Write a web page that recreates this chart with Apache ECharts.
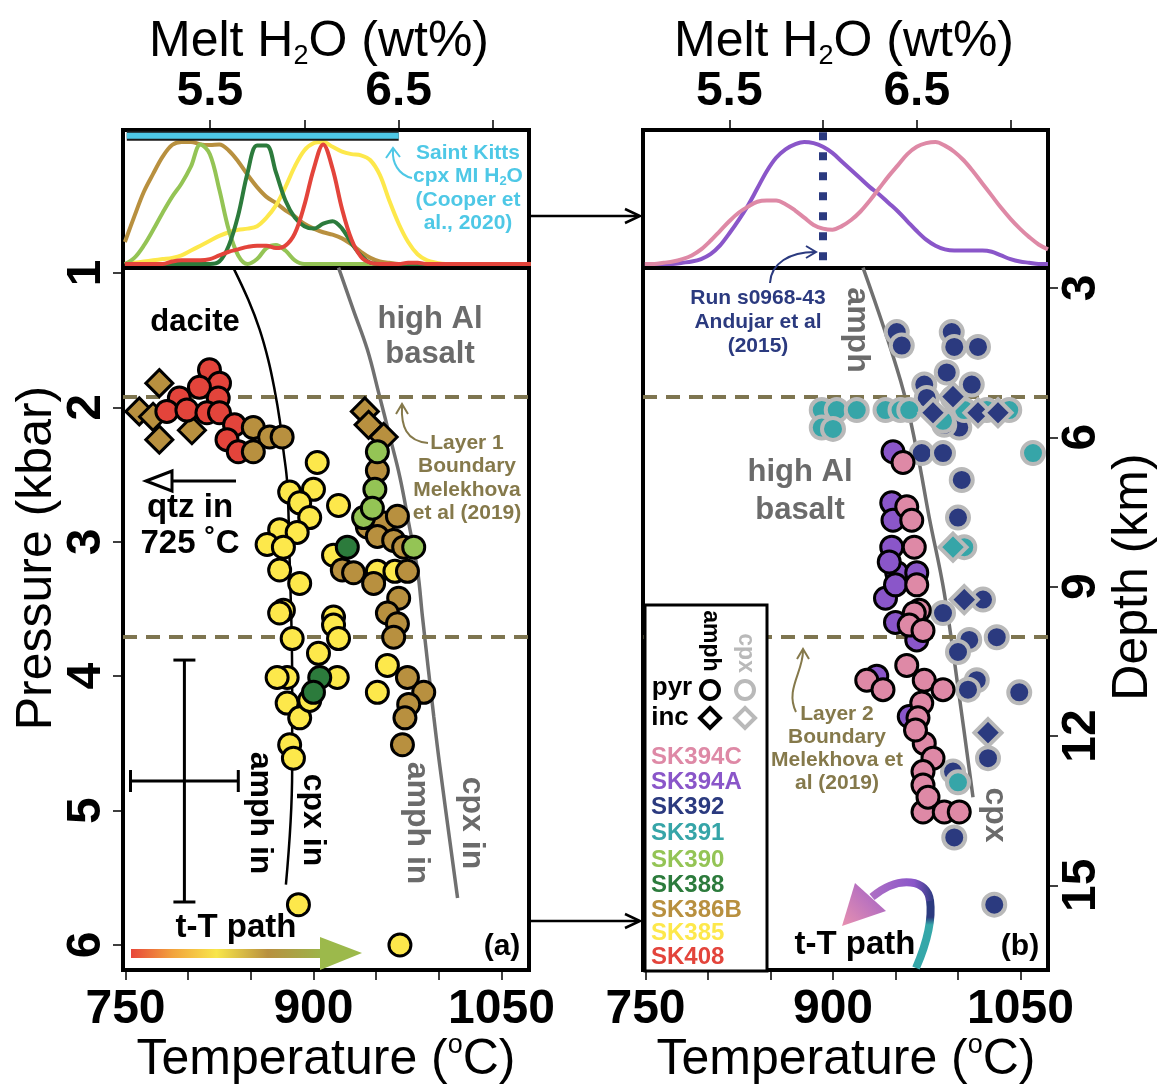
<!DOCTYPE html>
<html>
<head>
<meta charset="utf-8">
<script src="https://cdn.jsdelivr.net/npm/echarts@6.0.0/dist/echarts.min.js"></script>
<style>
html, body { margin: 0; padding: 0; background: #fff; }
#main { width: 1163px; height: 1091px; }
</style>
</head>
<body>
<div id="main"></div>
<script>
const FONT = "'Liberation Sans', Arial, Helvetica, sans-serif";

// ---- axes ----
const tempTicks = [750, 800, 850, 900, 950, 1000, 1050];
const tempLabels = [750, 900, 1050];
const presTicks = [1, 2, 3, 4, 5, 6];
const h2oTicks = [5.5, 6.0, 6.5, 7.0];
const h2oLabels = [5.5, 6.5];
const depthTicks = [3, 6, 9, 12, 15];

// ---- samples ----
const sampleNames = ['SK394C', 'SK394A', 'SK392', 'SK391', 'SK390', 'SK388', 'SK386B', 'SK385', 'SK408'];
const sampleColors = ['#de89a6', '#8a56c9', '#2b3a7f', '#36a5a8', '#94c455', '#2c7b3c', '#b8903f', '#fde84b', '#e3443b'];

// melt H2O (wt%) grid for the density curves
const h2oGrid = [5.05, 5.10, 5.15, 5.20, 5.25, 5.30, 5.35, 5.40, 5.45, 5.50, 5.55, 5.60, 5.65, 5.70, 5.75,
  5.80, 5.85, 5.90, 5.95, 6.00, 6.05, 6.10, 6.15, 6.20, 6.25, 6.30, 6.35, 6.40, 6.45, 6.50, 6.55, 6.60,
  6.65, 6.70, 6.75, 6.80, 6.85, 6.90, 6.95, 7.00, 7.05, 7.10, 7.15, 7.20];

// panel a densities (scaled)
const densSK386B = [0.18, 0.39, 0.59, 0.74, 0.88, 0.975, 1.0, 1.0, 0.98, 0.975, 0.98, 0.93, 0.84, 0.73, 0.63,
  0.55, 0.50, 0.44, 0.39, 0.33, 0.29, 0.26, 0.24, 0.21, 0.16, 0.10, 0.05, 0.02, 0.01, 0, 0, 0,
  0, 0, 0, 0, 0, 0, 0, 0, 0, 0, 0, 0];
const densSK390 = [0, 0.05, 0.15, 0.28, 0.42, 0.55, 0.66, 0.80, 0.98, 0.90, 0.61, 0.28, 0.07, 0, 0.04,
  0.13, 0.155, 0.11, 0.03, 0, 0, 0, 0, 0, 0, 0, 0, 0, 0, 0, 0, 0,
  0, 0, 0, 0, 0, 0, 0, 0, 0, 0, 0, 0];
const densSK388 = [0, 0, 0, 0, 0, 0, 0, 0, 0, 0, 0.02, 0.15, 0.40, 0.75, 0.97,
  0.97, 0.75, 0.52, 0.38, 0.31, 0.29, 0.33, 0.35, 0.29, 0.17, 0.07, 0.01, 0, 0, 0, 0, 0,
  0, 0, 0, 0, 0, 0, 0, 0, 0, 0, 0, 0];
const densSK408 = [0, 0, 0, 0, 0, 0.02, 0.03, 0.03, 0.03, 0.04, 0.07, 0.10, 0.12, 0.14, 0.15,
  0.15, 0.13, 0.15, 0.25, 0.48, 0.78, 0.98, 0.78, 0.45, 0.20, 0.06, 0.01, 0, 0, 0, 0.01, 0.01,
  0, 0, 0, 0, 0, 0, 0, 0, 0, 0, 0, 0];
const densSK385 = [0, 0.01, 0.02, 0.03, 0.04, 0.05, 0.07, 0.11, 0.15, 0.19, 0.23, 0.26, 0.28, 0.29, 0.31,
  0.38, 0.48, 0.63, 0.80, 0.93, 0.99, 1.0, 0.96, 0.92, 0.90, 0.89, 0.85, 0.73, 0.52, 0.33, 0.18, 0.08,
  0.03, 0.01, 0, 0, 0, 0, 0, 0, 0, 0, 0, 0];
// panel b densities
const densSK394A = [0, 0, 0, 0, 0.01, 0.02, 0.04, 0.08, 0.15, 0.25, 0.36, 0.48, 0.62, 0.76, 0.87,
  0.94, 0.98, 1.0, 0.99, 0.96, 0.91, 0.84, 0.77, 0.70, 0.63, 0.57, 0.50, 0.43, 0.35, 0.27, 0.20, 0.15,
  0.12, 0.11, 0.11, 0.11, 0.11, 0.10, 0.07, 0.04, 0.02, 0.01, 0, 0];
const densSK394C = [0, 0, 0.01, 0.02, 0.04, 0.07, 0.12, 0.19, 0.27, 0.35, 0.42, 0.47, 0.51, 0.52, 0.52,
  0.49, 0.44, 0.38, 0.32, 0.29, 0.28, 0.31, 0.36, 0.43, 0.52, 0.62, 0.72, 0.81, 0.90, 0.96, 0.99, 1.0,
  0.97, 0.92, 0.85, 0.76, 0.66, 0.56, 0.46, 0.37, 0.29, 0.22, 0.16, 0.12];

const kittsRange = [5.06, 6.5];   // Saint Kitts cpx MI H2O
const runH2O = 6.0;              // Run s0968-43

// ---- panel a points [T degC, P kbar] ----
const sk408Pyr = [[817, 1.72], [825, 1.82], [809, 1.85], [793, 1.93], [824, 1.93], [783, 2.03], [799, 2.02],
  [815, 2.04], [825, 2.04], [837, 2.13], [831, 2.24], [840, 2.33]];
const sk386bInc = [[777, 1.82], [761, 2.03], [777, 2.24], [803, 2.17], [772, 2.07], [941, 2.03], [944, 2.13], [956, 2.22]];
const sk386bPyr = [[852, 2.15], [865, 2.22], [875, 2.22], [852, 2.33], [951, 2.47], [943, 2.89], [956, 2.86],
  [967, 2.81], [951, 2.96], [964, 2.99], [972, 3.04], [923, 3.21], [932, 3.23], [948, 3.31], [975, 3.22],
  [968, 3.42], [959, 3.53], [967, 3.61], [964, 3.71], [975, 4.01], [988, 4.12], [976, 4.21], [973, 4.31], [971, 4.51]];
const sk385Pyr = [[903, 2.41], [881, 2.63], [900, 2.61], [889, 2.71], [897, 2.82], [920, 2.73], [873, 2.91],
  [887, 2.93], [863, 3.02], [876, 3.04], [873, 3.21], [889, 3.31], [916, 3.10], [876, 3.51], [916, 3.56],
  [951, 3.22], [965, 3.22], [873, 3.53], [883, 3.72], [916, 3.62], [920, 3.72], [904, 3.83], [879, 4.01],
  [871, 4.01], [919, 4.01], [879, 4.20], [889, 4.31], [881, 4.51], [884, 4.61], [897, 4.18], [888, 5.70],
  [969, 6.00], [959, 3.92], [951, 4.12]];
const sk390Pyr = [[951, 2.33], [949, 2.61], [980, 3.04], [940, 2.82], [947, 2.75]];
const sk388Pyr = [[927, 3.04], [905, 4.01], [900, 4.12]];

// ---- panel b points ----
const sk392Pyr = [[951, 1.44], [955, 1.54], [995, 1.44], [997, 1.55], [1016, 1.55], [991, 1.74], [973, 1.83],
  [1011, 1.83], [975, 1.93], [996, 1.93], [1001, 2.15], [989, 2.13], [971, 2.34], [988, 2.34], [1003, 2.54],
  [1000, 2.82], [1020, 3.43], [988, 3.53], [1031, 3.71], [1009, 3.73], [1000, 3.82], [1015, 4.03],
  [1008, 4.10], [1049, 4.12], [1024, 4.61], [996, 4.71], [997, 5.20], [1029, 5.70]];
const sk392Inc = [[980, 2.04], [1016, 2.04], [1032, 2.04], [996, 1.92], [1005, 3.43], [1024, 4.42]];
const sk391Pyr = [[891, 2.02], [903, 2.02], [919, 2.02], [942, 2.02], [954, 2.02], [961, 2.02], [988, 2.10],
  [1005, 2.02], [1023, 2.02], [1041, 2.02], [891, 2.15], [900, 2.16], [1060, 2.34], [1005, 3.04], [1000, 4.79]];
const sk391Inc = [[996, 3.04]];
const sk394aPyr = [[948, 2.33], [947, 2.71], [948, 2.84], [947, 3.04], [951, 3.23], [942, 3.42], [967, 3.23],
  [967, 3.73], [935, 4.00], [961, 4.30], [950, 3.32], [945, 3.15], [950, 3.60]];
const sk394cPyr = [[956, 2.41], [959, 2.74], [963, 2.84], [965, 3.04], [967, 3.32], [969, 3.51], [965, 3.53],
  [961, 3.62], [972, 3.66], [959, 3.92], [973, 4.03], [988, 4.10], [927, 4.03], [940, 4.10], [971, 4.20],
  [968, 4.31], [973, 4.50], [980, 4.61], [972, 4.71], [972, 4.81], [972, 5.01], [989, 5.01], [1001, 5.01],
  [966, 4.40], [976, 4.90]];

// phase boundaries [T, P]
const daciteLine = [[836, 0.96], [848, 1.20], [857, 1.42], [864, 1.65], [869, 1.87], [873, 2.09], [876, 2.32],
  [879, 2.56], [881, 3.14], [883, 4.03], [883, 4.70], [878, 5.55]];
const basaltLineA = [[920, 0.96], [932, 1.28], [943, 1.57], [952, 1.89], [961, 2.22], [969, 2.52], [976, 2.86],
  [983, 3.21], [987, 3.56], [996, 4.30], [1001, 4.68], [1015, 5.65]];
const basaltLineB = [[924, 0.96], [954, 1.80], [967, 2.32], [977, 2.82], [989, 3.38], [1001, 4.15], [1012, 4.90]];

const layerBounds = [1.92, 3.71];      // Melekhova et al (2019), kbar
const errCross = [797, 4.78, 43, 0.9];  // T, P, dT, dP

const COL = {};
sampleNames.forEach((n, i) => { COL[n] = sampleColors[i]; });

const chart = echarts.init(document.getElementById('main'));

const tick = { length: 10, inside: false, lineStyle: { color: '#000', width: 1.5 } };
const numLabel = { fontSize: 48, fontWeight: 'bold', color: '#000', fontFamily: FONT, formatter: v => String(v) };
const noLine = { show: false, onZero: false };
const box = { show: true, borderColor: '#000', borderWidth: 4, backgroundColor: '#fff' };

function tempAxis(gi) {
  return {
    type: 'value', gridIndex: gi, min: 748, max: 1072, position: 'bottom',
    axisLine: noLine, splitLine: { show: false },
    axisTick: { ...tick, customValues: tempTicks },
    axisLabel: { ...numLabel, customValues: tempLabels, margin: 16 }
  };
}
function h2oAxis(gi, max) {
  return {
    type: 'value', gridIndex: gi, min: 5.04, max: max, position: 'top',
    axisLine: noLine, splitLine: { show: false },
    axisTick: { ...tick, customValues: h2oTicks },
    axisLabel: { ...numLabel, customValues: h2oLabels, margin: 14, formatter: v => v.toFixed(1) }
  };
}
function densAxis(gi) {
  return { type: 'value', gridIndex: gi, min: -0.033, max: 1.098, show: false };
}

function dens(values, gi, name) {
  return {
    type: 'line', xAxisIndex: gi, yAxisIndex: gi, silent: true, smooth: 0.35, showSymbol: false, z: 3,
    data: h2oGrid.map((w, i) => [w, values[i]]),
    lineStyle: { color: COL[name], width: 4 }
  };
}
function dots(name, data, gi, symbol, edge) {
  const cpx = edge !== '#000';
  return {
    type: 'scatter', xAxisIndex: gi, yAxisIndex: gi, silent: true, z: 5,
    data, symbol, symbolSize: symbol === 'diamond' ? 27 : 22,
    itemStyle: { color: COL[name], borderColor: edge, borderWidth: cpx ? 4 : 3, opacity: 1 }
  };
}
function boundary(data, gi, color, width, withLayers) {
  const s = {
    type: 'line', xAxisIndex: gi, yAxisIndex: gi, silent: true, smooth: 0.4, showSymbol: false, z: 3,
    data, lineStyle: { color, width }
  };
  if (withLayers) {
    s.markLine = {
      silent: true, symbol: ['none', 'none'], label: { show: false },
      lineStyle: { color: '#7e7550', width: 4, type: [14, 9] },
      data: layerBounds.map(p => ({ yAxis: p }))
    };
  }
  return s;
}

const GRAY = '#6b6b6b';
const OLIVE = '#85794b';
const CYAN = '#4ec8e6';
const NAVY = '#2b3a7f';

function txt(x, y, text, size, color, opt) {
  opt = opt || {};
  return {
    type: 'text', x, y, rotation: opt.rot || 0, z: 100, silent: true,
    style: {
      text, fill: color, fontSize: size, fontWeight: opt.w || 'bold', fontFamily: FONT,
      align: opt.align || 'center', verticalAlign: 'middle',
      textAlign: opt.align || 'center', textVerticalAlign: 'middle',
      lineHeight: opt.lh || Math.round(size * 1.15), rich: opt.rich
    }
  };
}
function curve(p, color, w) {
  return {
    type: 'bezierCurve', z: 100, silent: true,
    shape: { x1: p[0], y1: p[1], cpx1: p[2], cpy1: p[3], cpx2: p[4], cpy2: p[5], x2: p[6], y2: p[7] },
    style: { stroke: color, lineWidth: w, fill: null }
  };
}
function poly(points, color, w) {
  return { type: 'polyline', z: 100, silent: true, shape: { points }, style: { stroke: color, lineWidth: w, fill: null } };
}

const titleRich = {
  sub: { fontSize: 27, lineHeight: 27, verticalAlign: 'bottom', fill: '#000', fontFamily: FONT },
  sup: { fontSize: 27, lineHeight: 27, verticalAlign: 'top', fill: '#000', fontFamily: FONT }
};
const kittsRich = { s: { fontSize: 13, lineHeight: 13, verticalAlign: 'bottom', fill: CYAN, fontWeight: 'bold', fontFamily: FONT } };

const legendY = [757, 782, 807, 833, 860, 885, 910, 933, 957];

const graphics = [
  // titles
  txt(319, 42, 'Melt H{sub|2}O (wt%)', 50, '#000', { w: 'normal', lh: 56, rich: titleRich }),
  txt(844, 42, 'Melt H{sub|2}O (wt%)', 50, '#000', { w: 'normal', lh: 56, rich: titleRich }),
  txt(326, 1060, 'Temperature ({sup|o}C)', 50, '#000', { w: 'normal', lh: 56, rich: titleRich }),
  txt(846, 1060, 'Temperature ({sup|o}C)', 50, '#000', { w: 'normal', lh: 56, rich: titleRich }),
  txt(37, 558, 'Pressure (kbar)', 50, '#000', { w: 'normal', rot: Math.PI / 2 }),
  txt(1133, 577, 'Depth (km)', 50, '#000', { w: 'normal', rot: Math.PI / 2 }),

  // panel a annotations
  txt(195, 322, 'dacite', 31, '#000'),
  txt(430, 337, 'high Al\nbasalt', 31, GRAY, { lh: 35 }),
  txt(467, 478, 'Layer 1\nBoundary\nMelekhova\net al (2019)', 21, OLIVE, { lh: 23.5 }),
  curve([428, 443, 406, 441, 401, 426, 402, 406], OLIVE, 2),
  poly([[396, 414], [402, 404], [408, 414]], OLIVE, 2),
  txt(190, 508, 'qtz in', 33, '#000'),
  txt(190, 544, '725 \u02daC', 33, '#000'),
  { type: 'line', z: 100, silent: true, shape: { x1: 236, y1: 481, x2: 170, y2: 481 }, style: { stroke: '#000', lineWidth: 3 } },
  { type: 'polygon', z: 100, silent: true, shape: { points: [[146, 481], [172, 471], [172, 491]] }, style: { fill: '#fff', stroke: '#000', lineWidth: 3 } },
  txt(260, 813, 'amph in', 32, '#000', { rot: -Math.PI / 2 }),
  txt(313, 820, 'cpx in', 32, '#000', { rot: -Math.PI / 2 }),
  txt(417, 823, 'amph in', 32, GRAY, { rot: -Math.PI / 2 }),
  txt(472, 823, 'cpx in', 32, GRAY, { rot: -Math.PI / 2 }),
  txt(236, 928, 't-T path', 33, '#000'),
  {
    type: 'rect', z: 100, silent: true, shape: { x: 131, y: 949, width: 190, height: 9 },
    style: {
      fill: new echarts.graphic.LinearGradient(0, 0, 1, 0, [
        { offset: 0, color: '#e8473a' }, { offset: 0.22, color: '#f2a33d' }, { offset: 0.45, color: '#f8e64a' },
        { offset: 0.72, color: '#b8903f' }, { offset: 1, color: '#9db44a' }])
    }
  },
  { type: 'polygon', z: 100, silent: true, shape: { points: [[320, 937], [362, 953], [320, 970]] }, style: { fill: '#9cb94b' } },
  txt(502, 947, '(a)', 30, '#000'),
  txt(468, 188, 'Saint Kitts\ncpx MI H{s|2}O\n(Cooper et\nal., 2020)', 21, CYAN, { lh: 23.5, rich: kittsRich }),
  curve([412, 178, 398, 175, 392, 162, 393, 150], CYAN, 2),
  poly([[386, 158], [393, 148], [400, 157]], CYAN, 2),

  // arrows between panels
  { type: 'line', z: 100, silent: true, shape: { x1: 531, y1: 216, x2: 639, y2: 216 }, style: { stroke: '#000', lineWidth: 2.5 } },
  poly([[625, 209], [640, 216], [625, 223]], '#000', 2.5),
  { type: 'line', z: 100, silent: true, shape: { x1: 531, y1: 921, x2: 639, y2: 921 }, style: { stroke: '#000', lineWidth: 2.5 } },
  poly([[625, 914], [640, 921], [625, 928]], '#000', 2.5),

  // panel b annotations
  txt(758, 322, 'Run s0968-43\nAndujar et al\n(2015)', 21, NAVY, { lh: 24 }),
  curve([770, 283, 771, 263, 790, 252, 815, 252], NAVY, 2),
  poly([[806, 246], [816, 252], [806, 258]], NAVY, 2),
  txt(857, 330, 'amph', 32, GRAY, { rot: -Math.PI / 2 }),
  txt(800, 491, 'high Al\nbasalt', 31, GRAY, { lh: 38 }),
  txt(837, 749, 'Layer 2\nBoundary\nMelekhova et\nal (2019)', 21, OLIVE, { lh: 23 }),
  curve([796, 712, 785, 690, 803, 672, 803, 651], OLIVE, 2),
  poly([[797, 659], [803, 649], [809, 659]], OLIVE, 2),
  txt(995, 815, 'cpx', 32, GRAY, { rot: -Math.PI / 2 }),
  txt(855, 945, 't-T path', 33, '#000'),
  txt(1020, 947, '(b)', 30, '#000'),
  {
    type: 'bezierCurve', z: 100, silent: true,
    shape: { x1: 916, y1: 968, cpx1: 926, cpy1: 945, cpx2: 933, cpy2: 922, x2: 930, y2: 900 },
    style: {
      fill: null, lineWidth: 8,
      stroke: new echarts.graphic.LinearGradient(0, 1, 0, 0, [
        { offset: 0, color: '#35a7a9' }, { offset: 0.62, color: '#35a7a9' }, { offset: 0.72, color: NAVY }, { offset: 1, color: NAVY }])
    }
  },
  {
    type: 'bezierCurve', z: 100, silent: true,
    shape: { x1: 930, y1: 901, cpx1: 928, cpy1: 880, cpx2: 900, cpy2: 874, x2: 872, y2: 897 },
    style: {
      fill: null, lineWidth: 8,
      stroke: new echarts.graphic.LinearGradient(1, 0, 0, 0, [
        { offset: 0, color: NAVY }, { offset: 0.3, color: '#8a56c9' }, { offset: 1, color: '#b070c4' }])
    }
  },
  {
    type: 'polygon', z: 101, silent: true, shape: { points: [[855, 883], [886, 911], [842, 926]] },
    style: {
      fill: new echarts.graphic.LinearGradient(1, 0, 0, 1, [
        { offset: 0, color: '#9c5ec8' }, { offset: 1, color: '#e891b0' }])
    }
  },

  // legend box
  { type: 'rect', z: 90, silent: true, shape: { x: 645, y: 605, width: 122, height: 366 }, style: { fill: '#fff', stroke: '#000', lineWidth: 3 } },
  txt(710, 641, 'amph', 23, '#000', { rot: -Math.PI / 2 }),
  txt(745, 653, 'cpx', 23, '#b9b9b9', { rot: -Math.PI / 2 }),
  txt(672, 688, 'pyr', 26, '#000'),
  txt(670, 718, 'inc', 26, '#000'),
  { type: 'circle', z: 100, silent: true, shape: { cx: 710, cy: 690, r: 9 }, style: { fill: 'transparent', stroke: '#000', lineWidth: 4 } },
  { type: 'circle', z: 100, silent: true, shape: { cx: 745, cy: 690, r: 9 }, style: { fill: 'transparent', stroke: '#b9b9b9', lineWidth: 4 } },
  { type: 'polygon', z: 100, silent: true, shape: { points: [[710, 708], [720, 718], [710, 728], [700, 718]] }, style: { fill: 'transparent', stroke: '#000', lineWidth: 4 } },
  { type: 'polygon', z: 100, silent: true, shape: { points: [[745, 708], [755, 718], [745, 728], [735, 718]] }, style: { fill: 'transparent', stroke: '#b9b9b9', lineWidth: 4 } }
];
sampleNames.forEach((n, i) => graphics.push(txt(651, legendY[i], n, 24, sampleColors[i], { align: 'left' })));

const option = {
  animation: false,
  backgroundColor: '#fff',
  grid: [
    { ...box, left: 123, top: 130, width: 406, height: 138 },
    { ...box, left: 123, top: 268, width: 406, height: 702 },
    { ...box, left: 643, top: 130, width: 405, height: 138 },
    { ...box, left: 643, top: 268, width: 405, height: 702 }
  ],
  xAxis: [h2oAxis(0, 7.19), tempAxis(1), h2oAxis(2, 7.2), tempAxis(3)],
  yAxis: [
    densAxis(0),
    {
      type: 'value', gridIndex: 1, inverse: true, min: 0.963, max: 6.186,
      axisLine: noLine, splitLine: { show: false },
      axisTick: { ...tick, customValues: presTicks },
      axisLabel: { ...numLabel, customValues: presTicks, rotate: 90, margin: 12 }
    },
    densAxis(2),
    { type: 'value', gridIndex: 3, inverse: true, min: 0.963, max: 6.186, show: false },
    {
      type: 'value', gridIndex: 3, inverse: true, min: 2.6, max: 16.7, position: 'right',
      axisLine: noLine, splitLine: { show: false },
      axisTick: { ...tick, customValues: depthTicks },
      axisLabel: { ...numLabel, customValues: depthTicks, rotate: 90, margin: 10 }
    }
  ],
  series: [
    // panel a melt H2O densities
    dens(densSK386B, 0, 'SK386B'),
    dens(densSK385, 0, 'SK385'),
    dens(densSK390, 0, 'SK390'),
    dens(densSK388, 0, 'SK388'),
    dens(densSK408, 0, 'SK408'),
    {
      type: 'line', xAxisIndex: 0, yAxisIndex: 0, silent: true, showSymbol: false, z: 4,
      data: kittsRange.map(w => [w, 1.05]), lineStyle: { color: '#1a1a1a', width: 10, cap: 'butt' }
    },
    {
      type: 'line', xAxisIndex: 0, yAxisIndex: 0, silent: true, showSymbol: false, z: 4,
      data: kittsRange.map(w => [w, 1.05]), lineStyle: { color: CYAN, width: 6, cap: 'butt' }
    },
    // panel b densities
    dens(densSK394A, 2, 'SK394A'),
    dens(densSK394C, 2, 'SK394C'),
    {
      type: 'line', xAxisIndex: 2, yAxisIndex: 2, silent: true, showSymbol: false, z: 4,
      data: [[runH2O, 1.08], [runH2O, 0.03]], lineStyle: { color: NAVY, width: 8, type: [8, 12], cap: 'butt' }
    },

    // panel a
    boundary(daciteLine, 1, '#000', 2.5, true),
    boundary(basaltLineA, 1, '#707070', 3.5, false),
    {
      type: 'custom', xAxisIndex: 1, yAxisIndex: 1, silent: true, z: 4, data: [errCross],
      renderItem: function (params, api) {
        const t = api.value(0), p = api.value(1), dt = api.value(2), dp = api.value(3);
        const l = api.coord([t - dt, p]), r = api.coord([t + dt, p]);
        const u = api.coord([t, p - dp]), d = api.coord([t, p + dp]);
        const st = { stroke: '#000', lineWidth: 3 };
        const c = 11;
        const ln = (x1, y1, x2, y2) => ({ type: 'line', shape: { x1, y1, x2, y2 }, style: st });
        return {
          type: 'group', children: [
            ln(l[0], l[1], r[0], r[1]), ln(u[0], u[1], d[0], d[1]),
            ln(l[0], l[1] - c, l[0], l[1] + c), ln(r[0], r[1] - c, r[0], r[1] + c),
            ln(u[0] - c, u[1], u[0] + c, u[1]), ln(d[0] - c, d[1], d[0] + c, d[1])
          ]
        };
      }
    },
    dots('SK385', sk385Pyr, 1, 'circle', '#000'),
    dots('SK386B', sk386bInc, 1, 'diamond', '#000'),
    dots('SK408', sk408Pyr, 1, 'circle', '#000'),
    dots('SK386B', sk386bPyr, 1, 'circle', '#000'),
    dots('SK390', sk390Pyr, 1, 'circle', '#000'),
    dots('SK388', sk388Pyr, 1, 'circle', '#000'),

    // panel b
    boundary(basaltLineB, 3, '#707070', 3.5, true),
    dots('SK392', sk392Pyr, 3, 'circle', '#b9b9b9'),
    dots('SK391', sk391Pyr, 3, 'circle', '#b9b9b9'),
    dots('SK391', sk391Inc, 3, 'diamond', '#b9b9b9'),
    dots('SK392', sk392Inc, 3, 'diamond', '#b9b9b9'),
    dots('SK394A', sk394aPyr, 3, 'circle', '#000'),
    dots('SK394C', sk394cPyr, 3, 'circle', '#000')
  ],
  graphic: { elements: graphics }
};

chart.setOption(option);
</script>
</body>
</html>
